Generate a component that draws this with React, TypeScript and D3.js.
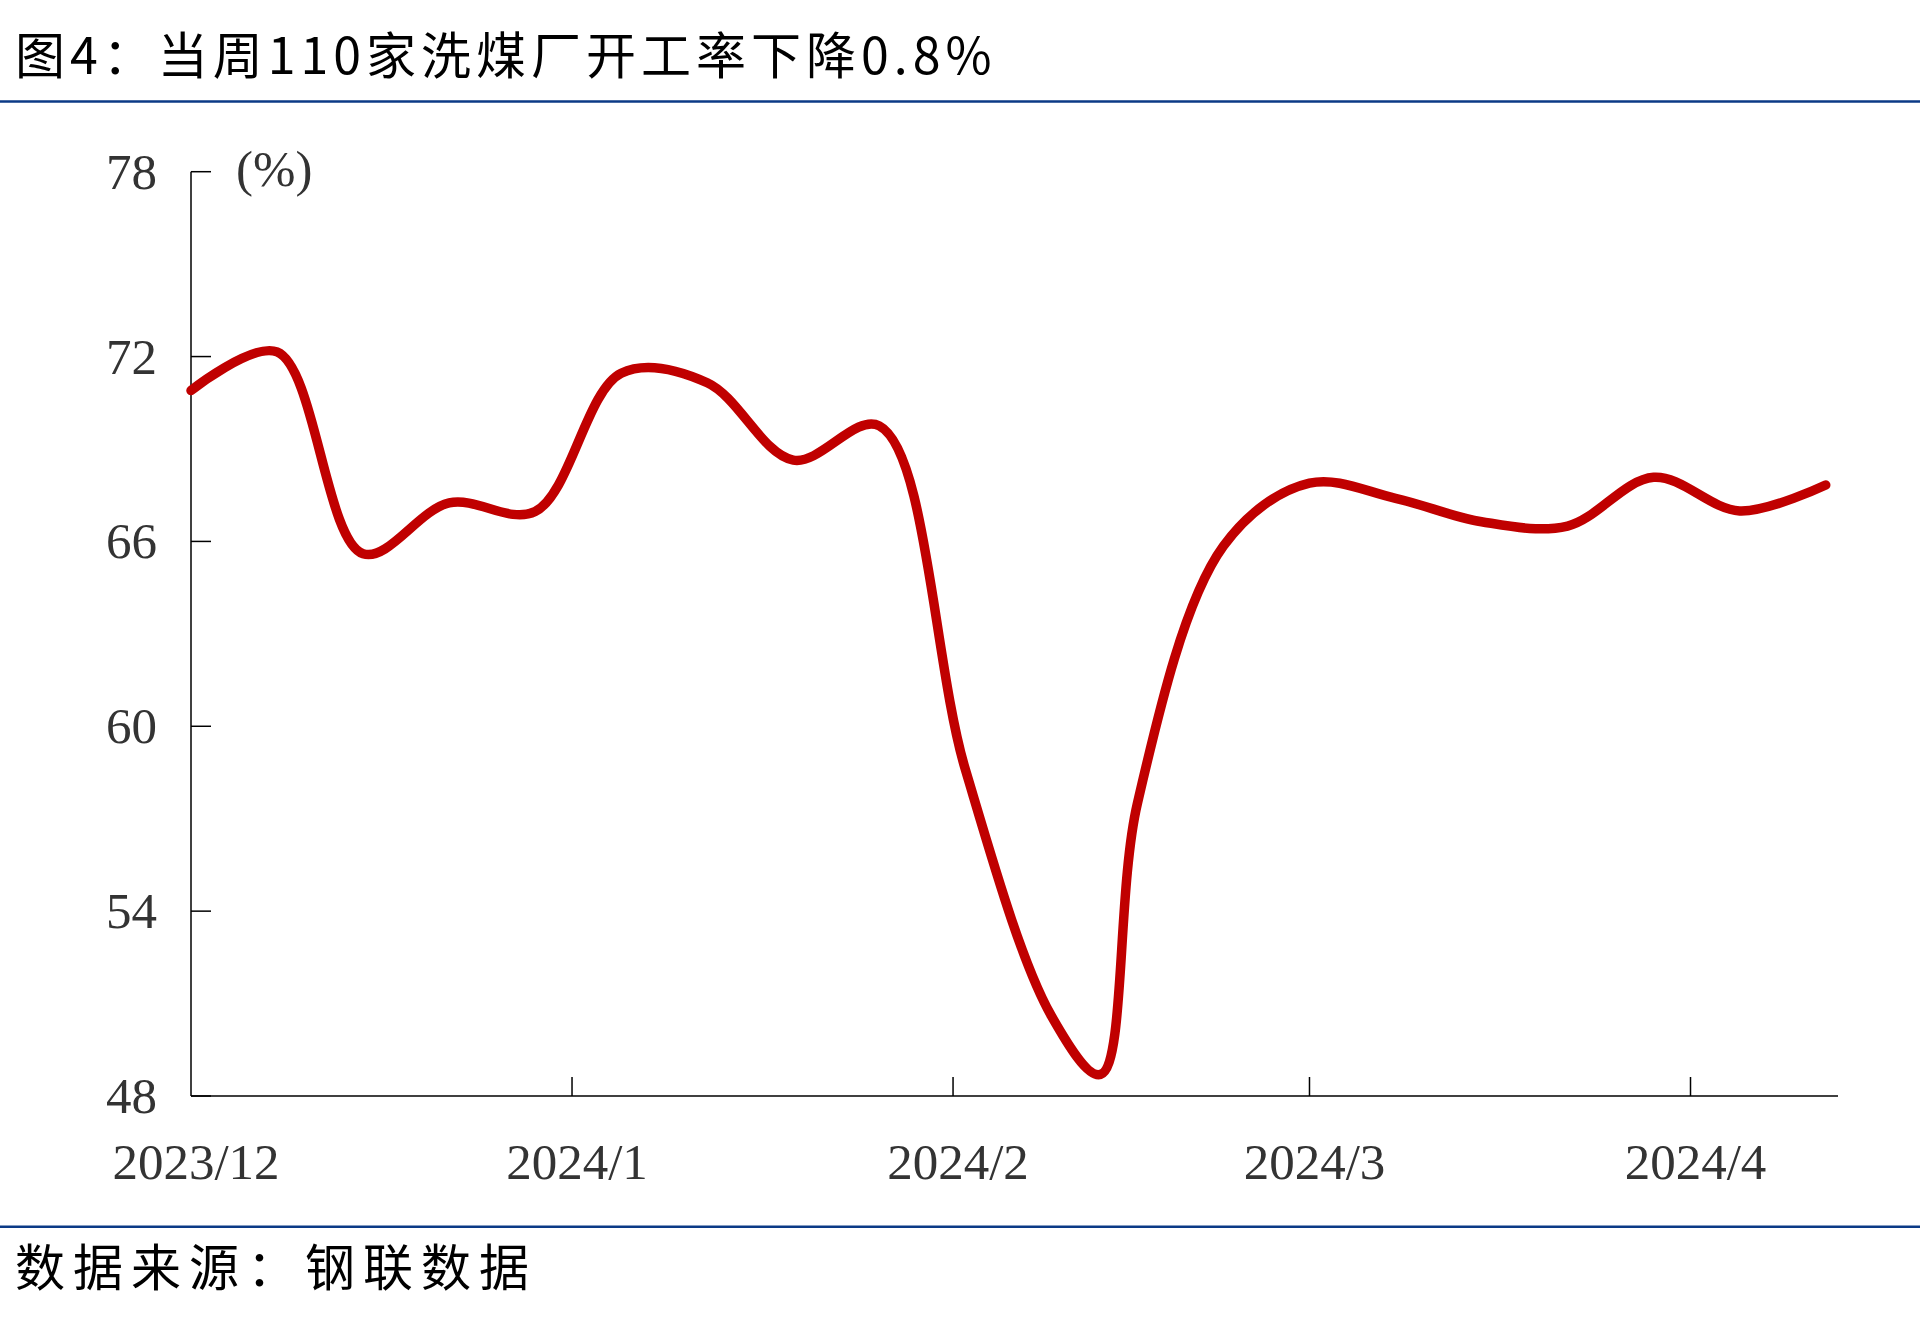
import React from "react";
import * as d3 from "d3";

// ---- data ----
const dates: string[] = [
  "2023-12-01", "2023-12-08", "2023-12-15", "2023-12-22", "2023-12-29",
  "2024-01-05", "2024-01-12", "2024-01-19", "2024-01-26",
  "2024-02-02", "2024-02-09", "2024-02-13", "2024-02-16", "2024-02-23",
  "2024-03-01", "2024-03-08", "2024-03-15", "2024-03-22", "2024-03-29",
  "2024-04-05", "2024-04-12",
];
const rates: number[] = [
  70.9, 72.15, 65.6, 67.25, 66.97,
  71.46, 71.15, 68.64, 69.75,
  58.6, 50.6, 48.7, 57.5, 65.85,
  67.89, 67.4, 66.64, 66.5, 68.08,
  66.99, 67.83,
];
const yTicks: number[] = [48, 54, 60, 66, 72, 78];
const monthTicks: string[] = ["2023-12-01", "2024-01-01", "2024-02-01", "2024-03-01", "2024-04-01"];
const monthLabels: string[] = ["2023/12", "2024/1", "2024/2", "2024/3", "2024/4"];
const title = "图4：当周110家洗煤厂开工率下降0.8%";
const source = "数据来源：钢联数据";
const unit = "(%)";

const W = 1920;
const H = 1331;

export default function App() {
  const parse = (s: string) => new Date(s + "T00:00:00Z");
  const x = d3
    .scaleUtc()
    .domain([parse("2023-12-01"), parse("2024-04-13")])
    .range([191, 1838]);
  const y = d3.scaleLinear().domain([48, 78]).range([1096, 171.7]);

  const pts = dates.map((d, i) => ({ d: parse(d), v: rates[i] }));
  const line = d3
    .line<{ d: Date; v: number }>()
    .x((p) => x(p.d))
    .y((p) => y(p.v))
    .curve(d3.curveCatmullRom.alpha(0.5));

  const numFont = "'Liberation Serif', 'Times New Roman', serif";
  const cjkFont = "'Noto Sans CJK SC', sans-serif";
  const blue = "#0B3A86";

  return (
    <svg
      width={W}
      height={H}
      style={{ position: "absolute", left: 0, top: 0, background: "#fff" }}
    >
      <rect x={0} y={0} width={W} height={H} fill="#fff" />
      <text x={15} y={74} fontFamily={cjkFont} fontSize={50} letterSpacing={5} fill="#000">
        {title}
      </text>
      <line x1={0} x2={W} y1={101.6} y2={101.6} stroke={blue} strokeWidth={2.5} />

      {/* y axis */}
      <line x1={191} x2={191} y1={y(78)} y2={y(48)} stroke="#000" strokeWidth={1.5} />
      {yTicks.map((t) => (
        <g key={t}>
          <line x1={191} x2={211} y1={y(t)} y2={y(t)} stroke="#000" strokeWidth={1.5} />
          <text
            x={157}
            y={y(t) + 17}
            textAnchor="end"
            fontFamily={numFont}
            fontSize={51}
            fill="#333"
          >
            {t}
          </text>
        </g>
      ))}
      <text x={236} y={186} fontFamily={numFont} fontSize={51} fill="#333">
        {unit}
      </text>

      {/* x axis */}
      <line x1={191} x2={1838} y1={y(48)} y2={y(48)} stroke="#000" strokeWidth={1.5} />
      {monthTicks.map((m, i) => {
        const xx = x(parse(m));
        return (
          <g key={m}>
            {i > 0 && (
              <line x1={xx} x2={xx} y1={y(48)} y2={y(48) - 19} stroke="#000" strokeWidth={1.5} />
            )}
            <text
              x={xx + 5}
              y={1179}
              textAnchor="middle"
              fontFamily={numFont}
              fontSize={51}
              fill="#333"
            >
              {monthLabels[i]}
            </text>
          </g>
        );
      })}

      {/* series */}
      <path
        d={line(pts) || ""}
        fill="none"
        stroke="#C00000"
        strokeWidth={9.5}
        strokeLinecap="round"
        strokeLinejoin="round"
      />

      <line x1={0} x2={W} y1={1226.7} y2={1226.7} stroke={blue} strokeWidth={2.5} />
      <text x={15} y={1286} fontFamily={cjkFont} fontSize={50} letterSpacing={8} fill="#000">
        {source}
      </text>
    </svg>
  );
}
